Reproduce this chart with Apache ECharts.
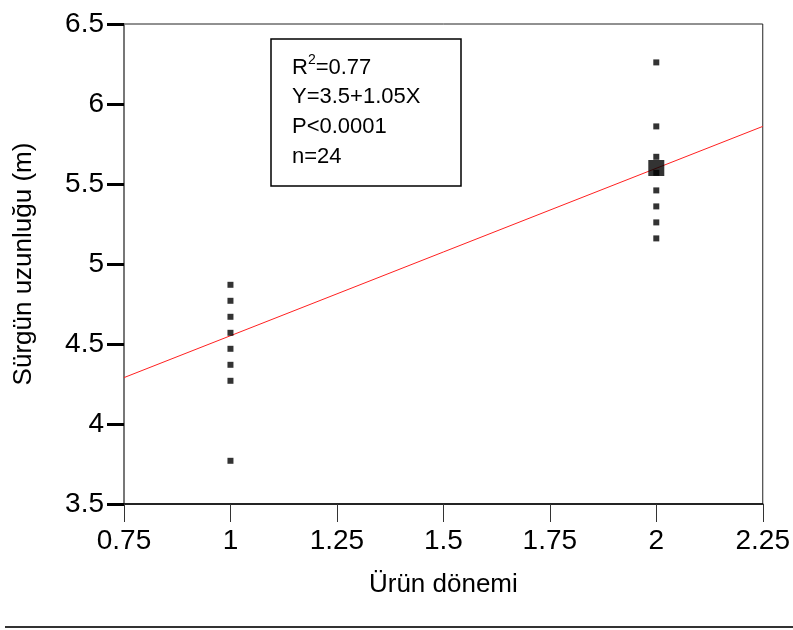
<!DOCTYPE html>
<html><head><meta charset="utf-8">
<script src="https://cdn.jsdelivr.net/npm/echarts@6/dist/echarts.min.js"></script>
<style>html,body{margin:0;padding:0;background:#fff}#c{width:793px;height:630px}</style>
</head><body><div id="c"></div>
<script>
const xTickLabels = ["0.75","1","1.25","1.5","1.75","2","2.25"];
const yTickLabels = ["3.5","4","4.5","5","5.5","6","6.5"];
const xTitle = "Ürün dönemi";
const yTitle = "Sürgün uzunluğu (m)";
const period1X = 1;
const period1Y = [4.87, 4.77, 4.67, 4.57, 4.47, 4.37, 4.27, 3.77];
const period2X = 2;
const period2Y = [6.26, 5.86, 5.67, 5.57, 5.46, 5.36, 5.26, 5.16];
const meanPoint = [2, 5.6];
const fitX = [0.75, 2.25];
const fitY = [4.29, 5.86];
const statsLines = ["R²=0.77", "Y=3.5+1.05X", "P<0.0001", "n=24"];

const FONT = '"Liberation Sans", Arial, sans-serif';
const pts = period1Y.map(v => [period1X, v]).concat(period2Y.map(v => [period2X, v]));
const chart = echarts.init(document.getElementById('c'), null, {renderer: 'canvas'});
chart.setOption({
  animation: false,
  backgroundColor: '#fff',
  grid: {left: 124, right: 28, top: 24, bottom: 126, show: true, borderColor: '#222', borderWidth: 1, backgroundColor: 'transparent'},
  xAxis: {
    type: 'value', min: 0.75, max: 2.25, interval: 0.25,
    name: xTitle, nameLocation: 'middle', nameGap: 68,
    nameTextStyle: {fontFamily: FONT, fontSize: 26, color: '#000'},
    axisLine: {lineStyle: {color: '#000', width: 1.5}},
    axisTick: {show: true, length: 18, lineStyle: {color: '#333', width: 1}},
    axisLabel: {margin: 23, fontFamily: FONT, fontSize: 28, color: '#000',
      formatter: v => xTickLabels[Math.round((v - 0.75) / 0.25)] ?? ''},
    splitLine: {show: false}
  },
  yAxis: {
    type: 'value', min: 3.5, max: 6.5, interval: 0.5,
    name: yTitle, nameLocation: 'middle', nameGap: 87, nameRotate: 90,
    nameTextStyle: {fontFamily: FONT, fontSize: 26, color: '#000'},
    axisLine: {lineStyle: {color: '#777', width: 2}},
    axisTick: {show: true, length: 17, lineStyle: {color: '#000', width: 3}},
    axisLabel: {margin: 20, fontFamily: FONT, fontSize: 28, color: '#000',
      formatter: v => yTickLabels[Math.round((v - 3.5) / 0.5)] ?? ''},
    splitLine: {show: false}
  },
  series: [
    {type: 'line', data: fitX.map((x, i) => [x, fitY[i]]), symbol: 'none',
      lineStyle: {color: '#ff2020', width: 1}, z: 2},
    {type: 'scatter', data: pts, symbol: 'rect', symbolSize: 6,
      itemStyle: {color: '#000'}, z: 3},
    {type: 'scatter', data: [meanPoint], symbol: 'rect', symbolSize: 16,
      itemStyle: {color: '#000'}, z: 4}
  ],
  graphic: [
    {type: 'rect', shape: {x: 271, y: 39, width: 190, height: 147},
      style: {fill: '#fff', stroke: '#000', lineWidth: 1.5}, z: 10},
    {type: 'text', x: 292, y: 66, z: 11,
      style: {text: '{b|R}{s|2}{b|=0.77}', verticalAlign: 'middle',
        rich: {b: {fontFamily: FONT, fontSize: 22, fill: '#000', verticalAlign: 'bottom'},
               s: {fontFamily: FONT, fontSize: 14, fill: '#000', verticalAlign: 'top', padding: [0, 0, 12, 0]}}}},
    ...statsLines.slice(1).map((t, i) => ({type: 'text', x: 292, y: 97 + i * 30, z: 11,
      style: {text: t, fontFamily: FONT, fontSize: 22, fill: '#000', verticalAlign: 'middle'}})),
    {type: 'line', shape: {x1: 5, y1: 627, x2: 793, y2: 627},
      style: {stroke: '#333', lineWidth: 2}}
  ]
});
</script></body></html>
